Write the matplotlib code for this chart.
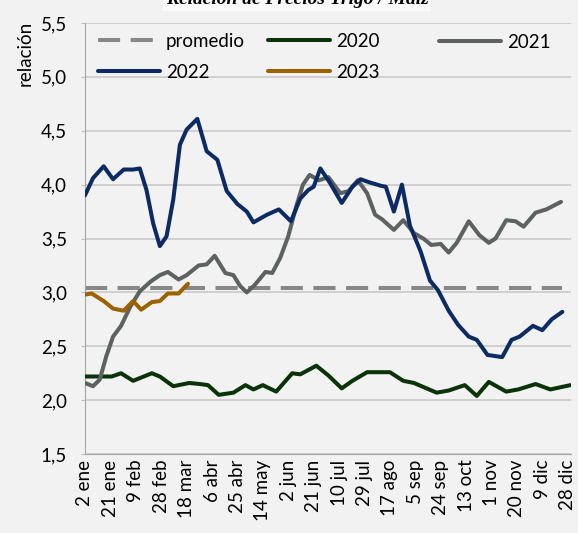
import matplotlib.pyplot as plt

# day offsets counted from 2 ene, values are wheat / corn price ratio
dias_2020 = [0, 20, 27, 36, 50, 56, 66, 78, 86, 92, 100, 111, 120, 126, 133, 143, 155, 161, 173, 182,
             192, 200, 211, 228, 238, 246, 263, 272, 284, 293, 302, 315, 324, 337, 348, 363]
val_2020 = [2.22, 2.22, 2.25, 2.18, 2.25, 2.22, 2.13, 2.16, 2.15, 2.14, 2.05, 2.07, 2.14, 2.10, 2.14, 2.08,
            2.25, 2.24, 2.32, 2.23, 2.11, 2.18, 2.26, 2.26, 2.18, 2.16, 2.07, 2.09, 2.14, 2.04, 2.17, 2.08,
            2.10, 2.15, 2.10, 2.14]

dias_2021 = [0, 6, 11, 16, 21, 27, 34, 41, 49, 56, 62, 70, 76, 85, 91, 97, 105, 111, 116, 121, 127, 135,
             140, 146, 152, 158, 163, 168, 175, 182, 191, 197, 204, 211, 217, 222, 231, 238, 246, 253,
             259, 266, 272, 278, 287, 295, 302, 307, 315, 322, 328, 337, 345, 356]
val_2021 = [2.16, 2.13, 2.19, 2.41, 2.59, 2.69, 2.87, 3.01, 3.10, 3.16, 3.19, 3.12, 3.16, 3.25, 3.26, 3.34,
            3.18, 3.16, 3.06, 3.00, 3.07, 3.19, 3.18, 3.32, 3.52, 3.80, 4.00, 4.09, 4.04, 4.07, 3.92, 3.94,
            4.04, 3.92, 3.72, 3.68, 3.58, 3.67, 3.55, 3.50, 3.44, 3.45, 3.37, 3.46, 3.66, 3.53, 3.46, 3.50,
            3.67, 3.66, 3.61, 3.74, 3.77, 3.84]

dias_2022 = [0, 6, 14, 21, 29, 36, 41, 46, 51, 56, 61, 66, 71, 76, 84, 91, 99, 106, 114, 121, 126, 136,
             145, 154, 161, 167, 171, 176, 183, 192, 200, 206, 213, 221, 225, 231, 237, 243, 251, 258,
             264, 272, 279, 287, 293, 301, 312, 319, 325, 335, 342, 349, 357]
val_2022 = [3.90, 4.06, 4.17, 4.05, 4.14, 4.14, 4.15, 3.95, 3.64, 3.43, 3.52, 3.86, 4.37, 4.51, 4.61, 4.31,
            4.23, 3.94, 3.82, 3.75, 3.65, 3.72, 3.77, 3.66, 3.87, 3.95, 3.98, 4.15, 4.02, 3.83, 3.98, 4.05,
            4.02, 3.99, 3.98, 3.75, 4.00, 3.62, 3.38, 3.11, 3.02, 2.83, 2.70, 2.59, 2.56, 2.42, 2.40, 2.56,
            2.59, 2.69, 2.65, 2.75, 2.82]

dias_2023 = [0, 5, 14, 21, 29, 36, 42, 50, 56, 62, 70, 77]
val_2023 = [2.98, 2.99, 2.92, 2.85, 2.83, 2.92, 2.84, 2.91, 2.92, 2.99, 2.99, 3.08]

dias_prom = [0, 357]
val_prom = [3.04, 3.04]

tick_dias = [0, 19, 38, 57, 76, 95, 114, 133, 152, 171, 190, 209, 228, 247, 266, 285, 304, 323, 342, 361]
tick_labels = ['2 ene', '21 ene', '9 feb', '28 feb', '18 mar', '6 abr', '25 abr', '14 may', '2 jun',
               '21 jun', '10 jul', '29 jul', '17 ago', '5 sep', '24 sep', '13 oct', '1 nov', '20 nov',
               '9 dic', '28 dic']
y_ticks = [1.5, 2.0, 2.5, 3.0, 3.5, 4.0, 4.5, 5.0, 5.5]

plt.rcParams['font.family'] = ['Lato', 'DejaVu Sans']
fs = 13.5

fig = plt.figure(figsize=(5.78, 5.33), dpi=100, facecolor='#f2f2f2')
ax = fig.add_axes([0.147, 0.148, 0.841, 0.809], facecolor='#f2f2f2')

lw = 2.9
kw = dict(lw=lw, solid_joinstyle='round', solid_capstyle='round')
l_prom, = ax.plot(dias_prom, val_prom, color='#878787', lw=lw, ls=(0, (5.5, 2.6)), label='promedio', zorder=2)
l20, = ax.plot(dias_2020, val_2020, color='#0b3309', label='2020', zorder=3, **kw)
l21, = ax.plot(dias_2021, val_2021, color='#5d6261', label='2021', zorder=3, **kw)
l22, = ax.plot(dias_2022, val_2022, color='#0c2b62', label='2022', zorder=4, **kw)
l23, = ax.plot(dias_2023, val_2023, color='#9a6200', label='2023', zorder=4, **kw)

ax.set_xlim(0, 363.5)
ax.set_ylim(1.5, 5.5)
ax.set_yticks(y_ticks)
ax.set_yticklabels([f'{v:.1f}'.replace('.', ',') for v in y_ticks], fontsize=fs)
ax.set_xticks(tick_dias)
ax.set_xticklabels(tick_labels, rotation=90, fontsize=fs)
ax.tick_params(axis='x', length=0, pad=4)
ax.tick_params(axis='y', length=3, color='#bfbfbf', pad=10)
ax.grid(axis='y', color='#c6c6c6', lw=1.1)
ax.set_axisbelow(True)
for s in ['top', 'right']:
    ax.spines[s].set_visible(False)
ax.spines['left'].set_color('#a6a6a6')
ax.spines['bottom'].set_color('#a6a6a6')

# three legend columns placed like the original
leg_kw = dict(frameon=False, fontsize=fs, handlelength=3.3, handletextpad=0.3,
              labelspacing=0.75, borderpad=0, borderaxespad=0, loc='center left')
leg1 = fig.legend([l_prom, l22], ['promedio', '2022'], bbox_to_anchor=(0.170, 0.893), **leg_kw)
leg2 = fig.legend([l20, l23], ['2020', '2023'], bbox_to_anchor=(0.464, 0.893), **leg_kw)
leg3 = fig.legend([l21], ['2021'], bbox_to_anchor=(0.760, 0.921), **leg_kw)

fig.text(0.043, 0.962, 'relación', rotation=90, fontsize=fs, ha='center', va='top')
fig.text(0.514, 0.992, 'Relación de Precios Trigo / Maíz', fontsize=14, fontweight='bold',
         fontstyle='italic', family='Liberation Serif', ha='center', va='baseline',
         bbox=dict(facecolor='#fafafa', edgecolor='none', pad=2))

fig.savefig('out.png', dpi=100, facecolor=fig.get_facecolor())
